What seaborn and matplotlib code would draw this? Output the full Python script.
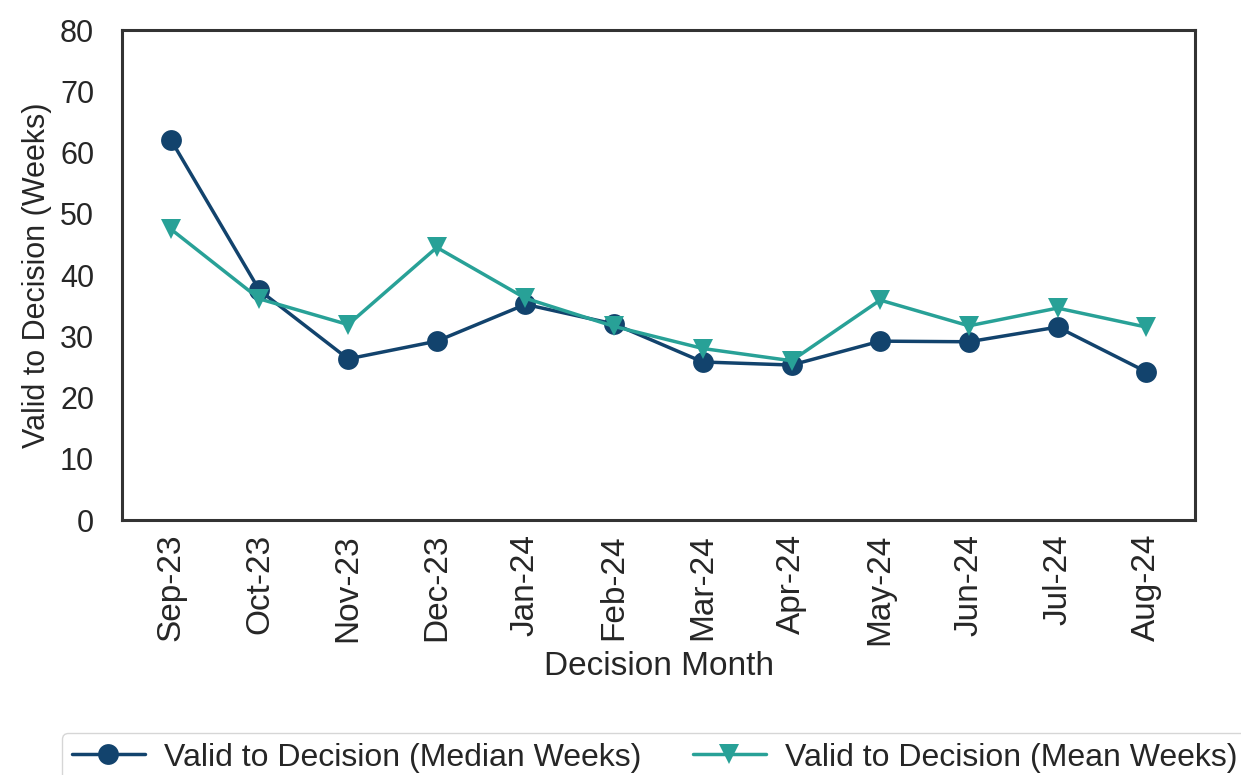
import pandas as pd
import matplotlib
matplotlib.use("Agg")
import matplotlib.pyplot as plt
import seaborn as sns

sns.set_style("white")
plt.rcParams['font.family'] = ['Liberation Sans', 'DejaVu Sans']

# --- data ---
months = ['Sep-23', 'Oct-23', 'Nov-23', 'Dec-23', 'Jan-24', 'Feb-24',
          'Mar-24', 'Apr-24', 'May-24', 'Jun-24', 'Jul-24', 'Aug-24']
median_weeks = [62.1, 37.5, 26.3, 29.2, 35.2, 32.0, 25.8, 25.3, 29.2, 29.1, 31.5, 24.2]
mean_weeks = [47.5, 36.1, 31.9, 44.5, 36.2, 31.6, 28.0, 26.0, 35.9, 31.7, 34.6, 31.5]

median_label = 'Valid to Decision (Median Weeks)'
mean_label = 'Valid to Decision (Mean Weeks)'

df = pd.DataFrame({
    'month': months * 2,
    'weeks': median_weeks + mean_weeks,
    'series': [median_label] * len(months) + [mean_label] * len(months),
})

palette = {median_label: '#12436D', mean_label: '#28A197'}
markers = {median_label: 'o', mean_label: 'v'}

fig = plt.figure(figsize=(12.41, 7.75), dpi=100)
ax = fig.add_axes([122 / 1241, 1 - 520 / 775, (1195 - 122) / 1241, (520 - 30) / 775])

sns.lineplot(data=df, x='month', y='weeks', hue='series', style='series',
             palette=palette, markers=markers, dashes=False, sort=False,
             linewidth=2.5, markersize=15, markeredgewidth=0, ax=ax, legend='brief')

ax.set_xlim(-0.55, len(months) - 1 + 0.55)
ax.set_ylim(0, 80)
ax.set_yticks(range(0, 81, 10))
ax.set_xlabel('Decision Month', fontsize=24, labelpad=4)
ax.set_ylabel('Valid to Decision (Weeks)', fontsize=22, labelpad=6)
ax.tick_params(axis='x', labelsize=24, rotation=90, length=0, pad=10)
ax.tick_params(axis='y', labelsize=22, length=0, pad=20)
for s in ax.spines.values():
    s.set_color('#333333')
    s.set_linewidth(2.2)

handles, labels = ax.get_legend_handles_labels()
ax.get_legend().remove()
fig.legend(handles, labels, loc='upper left', ncol=2,
           bbox_to_anchor=(62 / 1241, 1 - 733 / 775), fontsize=23,
           frameon=True, edgecolor='#cccccc', handlelength=2.3,
           handletextpad=0.6, columnspacing=1.6, borderpad=0.3,
           borderaxespad=0)

fig.savefig('out.png', dpi=100)
